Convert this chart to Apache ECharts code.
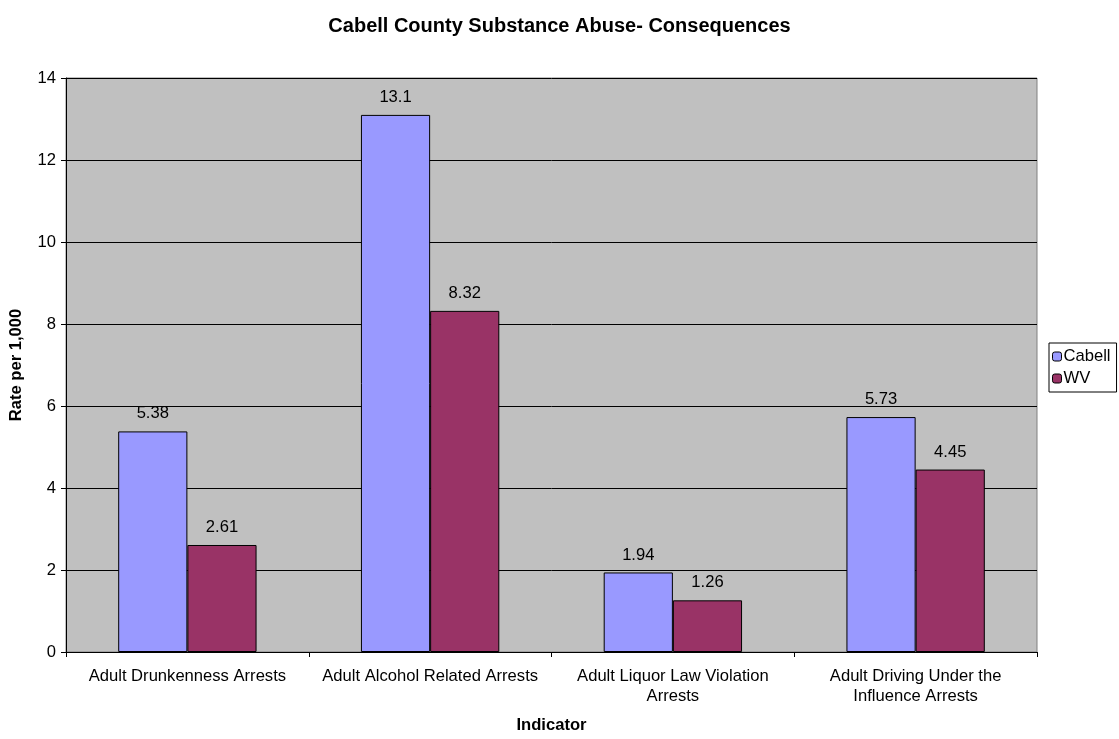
<!DOCTYPE html>
<html>
<head>
<meta charset="utf-8">
<title>Cabell County Substance Abuse- Consequences</title>
<script src="https://cdn.jsdelivr.net/npm/echarts@6/dist/echarts.min.js"></script>
<style>
  html, body { margin: 0; padding: 0; background: #fff; }
  #chart { width: 1119px; height: 739px; }
</style>
</head>
<body>
<div id="chart"></div>
<script>
// Indicators (x-axis categories)
const categories = [
  'Adult Drunkenness Arrests',
  'Adult Alcohol Related Arrests',
  'Adult Liquor Law Violation\nArrests',
  'Adult Driving Under the\nInfluence Arrests'
];

// Rates per 1,000
const cabellValues = [5.38, 13.1, 1.94, 5.73];
const wvValues = [2.61, 8.32, 1.26, 4.45];

const FONT = '"Liberation Sans", Arial, sans-serif';
const TEXT_SIZE = 16.6;

const chart = echarts.init(document.getElementById('chart'), null, { renderer: 'canvas' });

const labelStyle = {
  show: true,
  position: 'top',
  distance: 9,
  color: '#000',
  fontFamily: FONT,
  fontSize: TEXT_SIZE
};

chart.setOption({
  animation: false,
  backgroundColor: '#fff',
  textStyle: { fontFamily: FONT },
  title: {
    text: 'Cabell County Substance Abuse- Consequences',
    left: 'center',
    top: 11,
    textStyle: { fontFamily: FONT, fontSize: 20, fontWeight: 'bold', color: '#000' }
  },
  legend: {
    orient: 'vertical',
    left: 1049,
    top: 343,
    itemWidth: 9,
    itemHeight: 9,
    itemGap: 5,
    padding: [5, 6, 5, 3],
    borderColor: '#000',
    borderWidth: 1,
    backgroundColor: '#fff',
    textStyle: { fontFamily: FONT, fontSize: TEXT_SIZE, color: '#000', padding: [0, 0, 0, -3] },
    data: [
      { name: 'Cabell', itemStyle: { borderColor: '#000', borderWidth: 1 } },
      { name: 'WV', itemStyle: { borderColor: '#000', borderWidth: 1 } }
    ]
  },
  grid: {
    left: 66,
    right: 82,
    top: 78,
    bottom: 81,
    show: true,
    backgroundColor: '#C0C0C0',
    borderColor: '#808080',
    borderWidth: 1,
    containLabel: false
  },
  xAxis: {
    type: 'category',
    data: categories,
    name: 'Indicator',
    nameLocation: 'middle',
    nameGap: 65,
    nameTextStyle: { fontFamily: FONT, fontSize: TEXT_SIZE, fontWeight: 'bold', color: '#000' },
    axisLine: { show: true, lineStyle: { color: '#000', width: 1 } },
    axisTick: { show: true, alignWithLabel: false, length: 5, lineStyle: { color: '#000' } },
    axisLabel: {
      interval: 0,
      margin: 14,
      color: '#000',
      fontFamily: FONT,
      fontSize: TEXT_SIZE,
      lineHeight: 20
    },
    splitLine: { show: false }
  },
  yAxis: {
    type: 'value',
    min: 0,
    max: 14,
    interval: 2,
    name: 'Rate per 1,000',
    nameLocation: 'middle',
    nameGap: 41,
    nameRotate: 90,
    nameTextStyle: { fontFamily: FONT, fontSize: TEXT_SIZE, fontWeight: 'bold', color: '#000' },
    axisLine: { show: true, lineStyle: { color: '#000', width: 1 } },
    axisTick: { show: true, length: 5, lineStyle: { color: '#000' } },
    axisLabel: { margin: 10, color: '#000', fontFamily: FONT, fontSize: TEXT_SIZE },
    splitLine: { show: true, lineStyle: { color: '#000', width: 1 } }
  },
  series: [
    {
      name: 'Cabell',
      type: 'bar',
      data: cabellValues,
      barGap: '0%',
      barCategoryGap: '43%',
      itemStyle: { color: '#9999FF', borderColor: '#000', borderWidth: 1 },
      label: labelStyle
    },
    {
      name: 'WV',
      type: 'bar',
      data: wvValues,
      barGap: '0%',
      barCategoryGap: '43%',
      itemStyle: { color: '#993366', borderColor: '#000', borderWidth: 1 },
      label: labelStyle
    }
  ]
});
</script>
</body>
</html>
